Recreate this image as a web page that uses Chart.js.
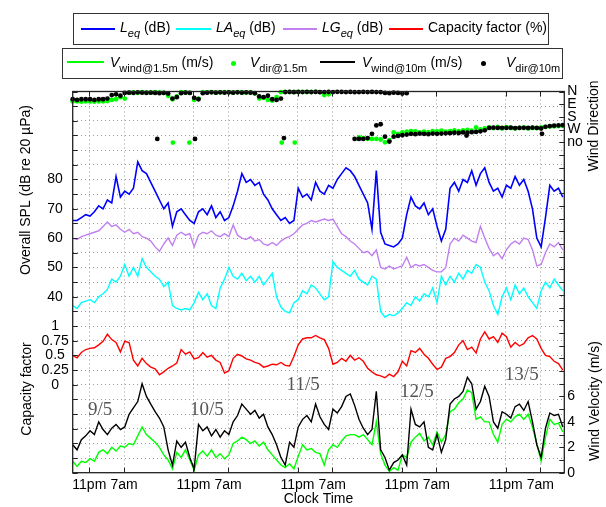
<!DOCTYPE html>
<html><head><meta charset="utf-8">
<script src="https://cdn.jsdelivr.net/npm/chart.js@4.4.1/dist/chart.umd.min.js"></script>
<style>
html,body{margin:0;padding:0;background:#fff;}
#wrap{position:relative;width:606px;height:507px;overflow:hidden;}
canvas{position:absolute;left:0;top:0;}
.box{position:absolute;border:1px solid #333;box-sizing:border-box;}
.t{position:absolute;font-family:'Liberation Sans',Arial,sans-serif;font-size:14px;line-height:16px;white-space:nowrap;color:#000;}
.t sub{font-size:11px;vertical-align:-5px;line-height:0;}
.ln{position:absolute;height:2px;}
.dot{position:absolute;width:5px;height:5px;border-radius:50%;}
</style></head>
<body>
<div id="wrap">
<canvas id="c" width="606" height="507"></canvas>
<div class="box" style="left:73px;top:13px;width:476px;height:32px"></div>
<div class="ln" style="left:81px;top:28px;width:34px;background:#0000ff"></div>
<div class="t" style="left:120px;top:19px"><i>L</i><sub><i>eq</i></sub> (dB)</div>
<div class="ln" style="left:176px;top:28px;width:35px;background:#00ffff"></div>
<div class="t" style="left:216px;top:19px"><i>LA</i><sub><i>eq</i></sub> (dB)</div>
<div class="ln" style="left:283px;top:28px;width:34px;background:#c080f0"></div>
<div class="t" style="left:322px;top:19px"><i>LG</i><sub><i>eq</i></sub> (dB)</div>
<div class="ln" style="left:389px;top:28px;width:34px;background:#ff0000"></div>
<div class="t" style="left:428px;top:19px">Capacity factor (%)</div>

<div class="box" style="left:62px;top:48px;width:501px;height:31px"></div>
<div class="ln" style="left:67px;top:61px;width:37px;background:#00ff00"></div>
<div class="t" style="left:110px;top:54px"><i>V</i><sub>wind@1.5m</sub> (m/s)</div>
<div class="dot" style="left:231px;top:61px;background:#00ff00"></div>
<div class="t" style="left:250px;top:54px"><i>V</i><sub>dir@1.5m</sub></div>
<div class="ln" style="left:320px;top:61px;width:35px;background:#000"></div>
<div class="t" style="left:362px;top:54px"><i>V</i><sub>wind@10m</sub> (m/s)</div>
<div class="dot" style="left:481px;top:61px;background:#000"></div>
<div class="t" style="left:506px;top:54px"><i>V</i><sub>dir@10m</sub></div>
</div>
<script>
// ---------------- data (hourly samples) ----------------
const startHour = 19.17;          // hour of first sample (0 = midnight of 9/5)
const xTickHours = [23, 31, 47, 55, 71, 79, 95, 103, 119, 127];
const xTickLabels = ['11pm','7am','11pm','7am','11pm','7am','11pm','7am','11pm','7am'];

const leq = [66,66,67,68,67.5,69,71,70,73,72,
  81,74,76,75,77,86,83,82,79,76,
  73,70,72,64,69,70,68,66,65,69,
  70,68,71,67,69,66,67,71,76,82,
  79,80,78,79,75,73,70,68,66,67,
  65,66,77,74,75,73,79,76,75,78,
  77,80,82,84,83,81,78,75,72,63,
  83,62,58,57.5,57,58,60,68,74,71,
  70,72,68,70,64,59,63,77,79,76,
  80,79,83,78,82,84,79,76,77,74,
  78,77,81,78,80,76,70,60,57,67,
  78,76,77,74];
const lgeq = [60,59.5,60.5,61,61.5,62,62.5,64,65.5,64,
  64.5,63,62,63,61.5,62,60.5,60,59,57,
  55.5,58,60,57.5,61,62,61,61.5,57,61,
  62,61.5,62.5,61,60.5,61.5,60.5,64.5,61,60,
  59.5,60.5,59,59.5,58,57.5,58.5,57.5,59,60,
  60.5,61.5,63,64.5,65,66,65.5,66,66.5,66,
  66.5,64,61.5,60.5,59,58,56.5,55,55.5,54,
  56,50,49.5,50.5,49.5,50,50.5,53.5,50,51,
  50.5,51,50,49,48.5,48.5,50,58,60,59,
  61,60,59,58.5,64,60,56.5,54,55,53,
  56,58,59,58,60,59.5,56,50.5,51,55,
  58,57,58.5,56];
const laeq = [37,36,38,38.5,39,38,40,41,42.5,46,
  45,47,51,47,50,47,53,50,48.5,47,
  46,43.5,45,37,36,35.5,36,35.5,38,41.5,
  39,41,37,36,43,46,50,47,46,48,
  45.5,47,45,47,44,46,48,40,36.5,35,
  34.5,38,39,42,41,44,43,41,39,40,
  52,50,49,48,47,49,46,45,44,47,
  46,35,33,34,33.5,34.5,36,38,37,40,
  38.5,41,40,43,38,47,44,47,45,48,
  46,49,48,51,50,45,42,37,34,40,
  43,39,44,41,43,40,38,36,42,45,
  43,46,44,42];
const capFactor = [.5,.46,.55,.6,.62,.63,.68,.74,.86,.77,
  .72,.56,.74,.72,.42,.32,.45,.36,.3,.27,
  .17,.22,.28,.32,.37,.6,.52,.56,.44,.46,
  .55,.47,.5,.42,.38,.2,.24,.45,.52,.49,
  .44,.42,.38,.36,.3,.32,.35,.34,.38,.33,
  .32,.48,.68,.78,.8,.8,.84,.8,.77,.62,
  .35,.38,.45,.4,.5,.42,.46,.4,.28,.22,
  .17,.15,.12,.18,.14,.22,.4,.32,.58,.55,
  .62,.52,.45,.35,.26,.3,.45,.48,.55,.68,
  .75,.6,.64,.54,.78,.9,.78,.82,.72,.88,
  .82,.64,.72,.66,.7,.8,.84,.78,.62,.5,
  .48,.4,.36,.25];
const wind10 = [2.2,1.8,2.6,2.9,3.3,3.0,4.0,3.4,3.0,3.5,
  3.8,3.4,3.6,4.6,5.1,5.6,7.0,6.0,5.4,4.8,
  4.3,3.6,1.8,0.6,2.5,2.0,2.4,1.2,0.3,3.8,
  3.3,3.6,2.9,3.4,2.8,3.3,3.0,4.0,4.5,5.4,
  5.0,4.6,4.9,4.3,4.6,3.6,3.0,2.2,1.2,0.6,
  2.4,2.0,3.6,4.2,4.5,4.0,5.4,4.4,3.8,3.4,
  5.0,4.7,5.2,6.0,6.2,5.3,4.2,3.5,3.0,3.4,
  6.4,1.8,1.2,0.2,0.8,1.0,1.4,0.6,5.0,3.8,
  3.6,4.0,2.0,1.8,3.0,1.6,2.6,5.4,5.8,6.0,
  6.4,7.5,7.0,5.0,5.6,6.8,6.0,4.0,3.5,4.8,
  4.6,4.3,5.2,5.4,4.9,5.6,4.0,2.2,1.2,3.5,
  4.7,4.5,4.6,3.6];
const wind15 = [.9,.5,.9,.8,1.1,.9,1.6,1.8,1.5,2.0,
  1.7,2.1,2.0,2.3,2.2,2.9,3.6,3.0,2.7,2.4,
  2.0,1.4,1.0,.3,1.6,1.2,1.8,1.0,.2,1.4,
  1.7,1.3,1.8,1.2,1.5,1.1,1.4,2.3,2.5,2.8,
  2.6,2.3,2.5,2.1,2.4,1.8,1.4,1.0,.6,.4,
  .7,.3,1.3,2.2,1.8,1.9,1.6,1.5,.6,1.8,
  2.2,2.0,2.5,2.9,3.0,3.0,2.8,3.0,2.6,2.2,
  4.0,1.5,.6,.1,.4,.2,1.4,1.2,2.4,2.8,
  3.1,2.5,2.8,2.2,3.2,2.4,3.0,4.8,5.0,5.5,
  5.8,6.5,6.3,4.2,4.4,4.0,4.0,3.0,2.4,3.8,
  4.2,4.0,4.4,4.6,4.2,4.6,3.6,2.3,.9,2.8,
  4.2,3.8,3.9,3.2];
// wind direction in degrees (0 = N ... 360 = no reading), null = no point
const dir10 = [55,60,55,55,55,60,55,55,50,
  25,20,30,10,
  8,10,6,8,10,8,10,12,10,15,
  50,40, 12,8,10, 45,55,
  12,8,6,8,6,8,6,8,6,8,6,8,
  12,35,40,30,55,60,50,
  4,3,5,3,4,2,4,3,5,4,3,4,2,3,4,3,5,4,3,4,3,4,5,
  10,12,8,10,14,12,
  300,302,298,300,302,298,300,298,296,295,292,294,290,292,288,286,282,275,
  258,256,258,257,258,256,259,258,257,258,256,258,262,
  250,245,242,240,238];
const dir15 = [70,70,72,70,70,72,70,70,68,
  60,55,40,50,
  8,6,10,4,6,8,4,6,10,
  30,55,35, 4,6,10, 60,50,
  4,6,4,8,6,4,6,8,4,6,8,6,
  15,50,45,60,65,40,5,
  2,4,2,4,2,4,3,2,4,25,20,
  null,null,null,null,null,null,
  325,330,335,336,336,340,360,345,
  290,300,290,285,280,282,290,285,288,280,282,278,285,280,276,280,275,272,278,
  255,268,262,255,260,250,262,252,258,262,258,255,262,258,260,255,250,248,246,245,244];
// extra direction readings: [sample index, degrees]
const dir10Extra = [[19.5,336],[28.2,336],[48.7,330],[65,336],[66,336],[67,336],[68,330],[69,300],
  [70,240],[71,232],[72,320],[73,355],[74,320],[75,315],[76,310],[77,305],[90.8,312],[108.2,300]];
const dir15Extra = [[23.1,362],[26.9,362],[48.2,362],[51.2,362]];

const splTickValues = [40,50,60,70,80];
const cfTickValues = [0,0.25,0.5,0.75,1];
const cfTickLabels = ['0','0.25','0.5','0.75','1'];
const velTickValues = [0,2,4,6];
const dirTickDegrees = [0,90,180,270,360];
const dirTickLabels = ['N','E','S','W','no'];
const dateLabels = ['9/5','10/5','11/5','12/5','13/5'];
const dateLabelHours = [25.5,50.1,72.3,98.5,122.7];
const dateLabelVel = [4.9,4.9,6.9,6.35,7.7];

// ---------------- scale relations ----------------
const splMin = -20, splMax = 110;
const cfAtSplRef = 10, splPerCf = 20;     // capacity factor 0 sits at 10 dB, 1.0 = 20 dB
const velMin = 0, velMax = 30;
const degPerVel = 90;                     // direction ticks share the velocity tick spacing
const xMin = startHour, xMax = startHour + 113.34;

const pts = arr => arr.map((v,i)=>({x:startHour+i, y:v}));
const dirPts = (arr, extra) => arr.map((v,i)=>({x:startHour+i, y:v}))
  .concat(extra.map(p=>({x:startHour+p[0], y:p[1]})));

Chart.defaults.font.family = "'Liberation Sans', Arial, Helvetica, sans-serif";
Chart.defaults.font.size = 14;
Chart.defaults.color = '#000';

const FONT = "14px 'Liberation Sans', Arial, sans-serif";
function vText(ctx, text, x, y){
  ctx.save(); ctx.translate(x,y); ctx.rotate(-Math.PI/2);
  ctx.textAlign='center'; ctx.textBaseline='middle'; ctx.fillText(text,0,0); ctx.restore();
}
const decor = {
  id:'decor',
  beforeDraw(chart){
    const c=chart.ctx; c.save(); c.fillStyle='#fff'; c.fillRect(0,0,chart.width,chart.height); c.restore();
  },
  afterDatasetsDraw(chart){
    const {ctx, chartArea:a, scales} = chart;
    ctx.save();
    ctx.strokeStyle='#222'; ctx.lineWidth=1;
    ctx.beginPath();
    scales.yspl.ticks.forEach(t=>{const y=Math.round(scales.yspl.getPixelForValue(t.value))+0.5; ctx.moveTo(a.left,y); ctx.lineTo(a.left+5,y);});
    scales.yvel.ticks.forEach(t=>{const y=Math.round(scales.yvel.getPixelForValue(t.value))+0.5; ctx.moveTo(a.right,y); ctx.lineTo(a.right-5,y);});
    scales.x.ticks.forEach(t=>{const x=Math.round(scales.x.getPixelForValue(t.value))+0.5;
      ctx.moveTo(x,a.bottom); ctx.lineTo(x,a.bottom-5); ctx.moveTo(x,a.top); ctx.lineTo(x,a.top+5);});
    ctx.stroke();
    ctx.lineWidth=1.3;
    ctx.strokeRect(a.left, a.top, a.right-a.left, a.bottom-a.top);
    // date labels
    ctx.fillStyle='#555'; ctx.font="19px 'Liberation Serif', 'Times New Roman', serif";
    ctx.textAlign='center'; ctx.textBaseline='middle';
    dateLabels.forEach((s,i)=>{
      ctx.fillText(s, scales.x.getPixelForValue(dateLabelHours[i]), scales.yvel.getPixelForValue(dateLabelVel[i]));
    });
    // axis titles
    ctx.fillStyle='#000'; ctx.font=FONT;
    vText(ctx,'Overall SPL (dB re 20 \u00b5Pa)', 26, 190);
    vText(ctx,'Capacity factor', 27, 389);
    vText(ctx,'Wind Direction', 594, 126);
    vText(ctx,'Wind Velocity (m/s)', 595, 401);
    ctx.textAlign='center'; ctx.textBaseline='middle';
    ctx.fillText('Clock Time', (a.left+a.right)/2, 499);
    ctx.restore();
  }
};

const lineDs = (label, data, axis, color, w, order) => ({label, data, yAxisID:axis, borderColor:color,
  backgroundColor:color, borderWidth:w, pointRadius:0, tension:0, fill:false, order});
const dotDs = (label, data, color, order) => ({label, data, yAxisID:'ydir', showLine:false,
  pointRadius:2.4, pointBackgroundColor:color, pointBorderWidth:0, borderColor:color, clip:false, order});

new Chart(document.getElementById('c'), {
  type:'line',
  data:{datasets:[
    dotDs('Vdir@10m', dirPts(dir10, dir10Extra), '#000', 0),
    dotDs('Vdir@1.5m', dirPts(dir15, dir15Extra), '#00ff00', 1),
    lineDs('Leq', pts(leq), 'yspl', '#0000ff', 1.6, 2),
    lineDs('LAeq', pts(laeq), 'yspl', '#00ffff', 1.4, 3),
    lineDs('LGeq', pts(lgeq), 'yspl', '#c080f0', 1.4, 4),
    lineDs('Capacity factor', pts(capFactor), 'ycf', '#ff0000', 1.4, 5),
    lineDs('Vwind@10m', pts(wind10), 'yvel', '#000000', 1.4, 6),
    lineDs('Vwind@1.5m', pts(wind15), 'yvel', '#00ff00', 1.4, 7)
  ]},
  options:{
    responsive:false, animation:false, devicePixelRatio:1,
    layout:{padding:{top:91.5,left:0,right:0,bottom:0}},
    plugins:{legend:{display:false}, tooltip:{enabled:false}},
    scales:{
      x:{type:'linear', position:'bottom', min:xMin, max:xMax,
        afterBuildTicks(s){ s.ticks = xTickHours.map(v=>({value:v})); },
        afterFit(s){ s.height = 34.3; },
        ticks:{autoSkip:false, maxRotation:0, minRotation:0, padding:4,
          callback:(v,i)=>xTickLabels[i]},
        grid:{color:'#9a9a9a', lineWidth:1, drawTicks:false},
        border:{display:false, dash:[1,3]}},
      yspl:{type:'linear', position:'left', min:splMin, max:splMax,
        afterFit(s){ s.width = 72.7; },
        ticks:{stepSize:5, autoSkip:false, maxTicksLimit:200, padding:4, crossAlign:'center',
          callback(v){
            if (splTickValues.includes(v)) return String(v);
            const cf = (v - cfAtSplRef)/splPerCf;
            const j = cfTickValues.indexOf(cf);
            return j>=0 ? cfTickLabels[j] : '';
          }},
        grid:{color:'#9a9a9a', lineWidth:1, drawTicks:false},
        border:{display:false, dash:[1,3]}},
      ycf:{type:'linear', display:false, min:(splMin-cfAtSplRef)/splPerCf, max:(splMax-cfAtSplRef)/splPerCf},
      yvel:{type:'linear', position:'right', min:velMin, max:velMax,
        afterFit(s){ s.width = 41.7; },
        ticks:{stepSize:1, autoSkip:false, maxTicksLimit:200, padding:3,
          callback(v){
            if (velTickValues.includes(v)) return String(v);
            const deg = (velMax - v)*degPerVel;
            const j = dirTickDegrees.indexOf(deg);
            return j>=0 ? dirTickLabels[j] : '';
          }},
        grid:{display:false, drawTicks:false},
        border:{display:false}},
      ydir:{type:'linear', display:false, reverse:true, min:0, max:velMax*degPerVel}
    }
  },
  plugins:[decor]
});
</script>
</body></html>
